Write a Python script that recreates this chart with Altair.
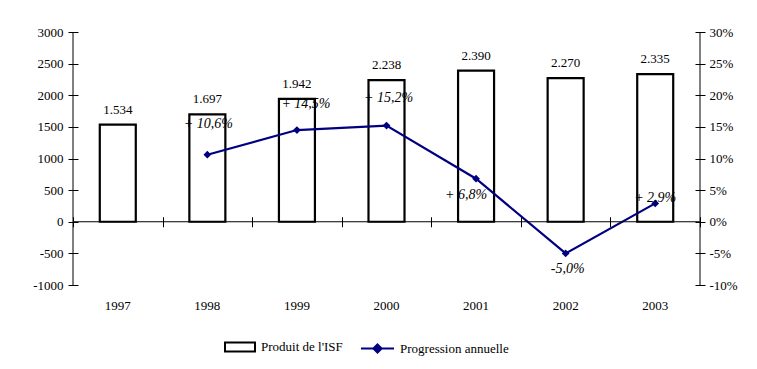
import altair as alt
import pandas as pd

years = ["1997", "1998", "1999", "2000", "2001", "2002", "2003"]
produit = [1534, 1697, 1942, 2238, 2390, 2270, 2335]
prog_years = ["1998", "1999", "2000", "2001", "2002", "2003"]
progression = [10.6, 14.5, 15.2, 6.8, -5.0, 2.9]
prog_labels = ["+ 10,6%", "+ 14,5%", "+ 15,2%", "+ 6,8%", "-5,0%", "+ 2,9%"]

W, H = 627, 253
FONT = "Liberation Serif"
NAVY = "#000080"

bars_df = pd.DataFrame({
    "year": years,
    "value": produit,
    "label": [f"{v:,}".replace(",", ".") for v in produit],
    "serie": ["Produit de l'ISF"] * len(years),
})
line_df = pd.DataFrame({
    "year": prog_years,
    "pct": progression,
    "label": prog_labels,
    "serie": ["Progression annuelle"] * len(prog_years),
})

xscale = alt.Scale(domain=years, paddingInner=0, paddingOuter=0)
yleft = alt.Scale(domain=[-1000, 3000], nice=False, zero=False)
yright = alt.Scale(domain=[-10, 30], nice=False, zero=False)

x_label_axis = alt.Axis(title=None, ticks=False, domain=False, labelAngle=0,
                        labelFont=FONT, labelFontSize=13, labelColor="black",
                        labelPadding=14, grid=False, orient="bottom")
x_tick_axis = alt.Axis(title=None, labels=False, domain=False, ticks=True,
                       tickBand="extent", tickSize=10, tickColor="black",
                       tickWidth=1, orient="bottom", offset=-(0.25 * H + 5),
                       grid=False)

base_b = alt.Chart(bars_df)
xb = alt.X("year:N", scale=xscale, sort=years, axis=None)

bars = base_b.mark_bar(size=36, stroke="black", strokeWidth=2.2).encode(
    x=alt.X("year:N", scale=xscale, axis=x_label_axis, sort=years),
    y=alt.Y("value:Q", scale=yleft,
            axis=alt.Axis(title=None, values=list(range(-1000, 3001, 500)),
                          labelExpr="datum.value + ''", labelOverlap=False,
                          offset=-5, tickSize=10, domain=False,
                          tickColor="black", labelFont=FONT, labelFontSize=13,
                          labelColor="black", labelPadding=5, grid=False,
                          orient="left")),
    fill=alt.Fill("serie:N", scale=alt.Scale(range=["white"]),
                  legend=alt.Legend(title=None, orient="none", legendX=151,
                                    legendY=299,
                                    symbolType="M-1,-0.3H1V0.3H-1Z",
                                    symbolSize=900, symbolStrokeColor="black",
                                    symbolStrokeWidth=2, symbolFillColor="white",
                                    labelFont=FONT, labelFontSize=13,
                                    labelColor="black", labelOffset=5)),
)

bar_text = base_b.mark_text(font=FONT, fontSize=13, color="black",
                            baseline="bottom", dy=-8).encode(
    x=xb,
    y=alt.Y("value:Q", scale=yleft, axis=None),
    text="label:N",
)

zero_rule = alt.Chart(pd.DataFrame({"z": [0]})).mark_rule(
    color="black", strokeWidth=1).encode(
    y=alt.Y("z:Q", scale=yleft, axis=None), x=alt.value(0), x2=alt.value(W))

left_rule = alt.Chart(pd.DataFrame({"z": [0]})).mark_rule(
    color="black", strokeWidth=1).encode(
    x=alt.value(0), y=alt.value(0), y2=alt.value(H))
right_rule = alt.Chart(pd.DataFrame({"z": [0]})).mark_rule(
    color="black", strokeWidth=1).encode(
    x=alt.value(W), y=alt.value(0), y2=alt.value(H))

base_l = alt.Chart(line_df)
xl = alt.X("year:N", scale=xscale, sort=years, axis=None)

line = base_l.mark_line(strokeWidth=2.2).encode(
    x=alt.X("year:N", scale=xscale, axis=x_tick_axis, sort=years),
    y=alt.Y("pct:Q", scale=yright,
            axis=alt.Axis(title=None, values=list(range(-10, 31, 5)),
                          labelExpr="datum.value + '%'", labelOverlap=False,
                          offset=-5,
                          tickSize=10, domain=False, tickColor="black",
                          labelFont=FONT, labelFontSize=13,
                          labelColor="black", labelPadding=4, grid=False,
                          orient="right")),
    stroke=alt.Stroke("serie:N", scale=alt.Scale(range=[NAVY]),
                      legend=alt.Legend(title=None, orient="none", legendX=287,
                                        legendY=299,
                                        symbolType="M-1,0H1M0,-0.25L0.25,0L0,0.25L-0.25,0Z",
                                        symbolSize=1089, symbolStrokeColor=NAVY,
                                        symbolFillColor=NAVY,
                                        symbolStrokeWidth=2,
                                        labelFont=FONT, labelFontSize=13,
                                        labelColor="black", labelOffset=5)),
)

points = base_l.mark_point(shape="diamond", filled=True, size=60,
                           color=NAVY, opacity=1).encode(
    x=xl, y=alt.Y("pct:Q", scale=yright, axis=None))

def pct_text(sel, dy, dx=0):
    return base_l.transform_filter(
        alt.FieldOneOfPredicate(field="year", oneOf=sel)
    ).mark_text(font=FONT, fontSize=14, fontStyle="italic", color="black",
                baseline="middle", dy=dy, dx=dx).encode(
        x=xl, y=alt.Y("pct:Q", scale=yright, axis=None), text="label:N")

t_1998 = pct_text(["1998"], -31, 1)
t_1999 = pct_text(["1999"], -26, 9)
t_2000 = pct_text(["2000"], -28, 2)
t_2001 = pct_text(["2001"], 16, -10)
t_2002 = pct_text(["2002"], 16, 2)
t_2003 = pct_text(["2003"], -5)

chart = alt.layer(
    bars, line, bar_text, zero_rule, left_rule, right_rule, points,
    t_1998, t_1999, t_2000, t_2001, t_2002, t_2003
).resolve_scale(
    y="independent", fill="independent", stroke="independent"
).resolve_axis(x="independent", y="independent").properties(
    width=W, height=H,
    autosize=alt.AutoSizeParams(type="none"),
    padding={"left": 65, "top": 24, "right": 49, "bottom": 84},
    background="white",
).configure_view(stroke=None)

chart.save("out.html", embed_options={"renderer": "svg", "actions": False})
